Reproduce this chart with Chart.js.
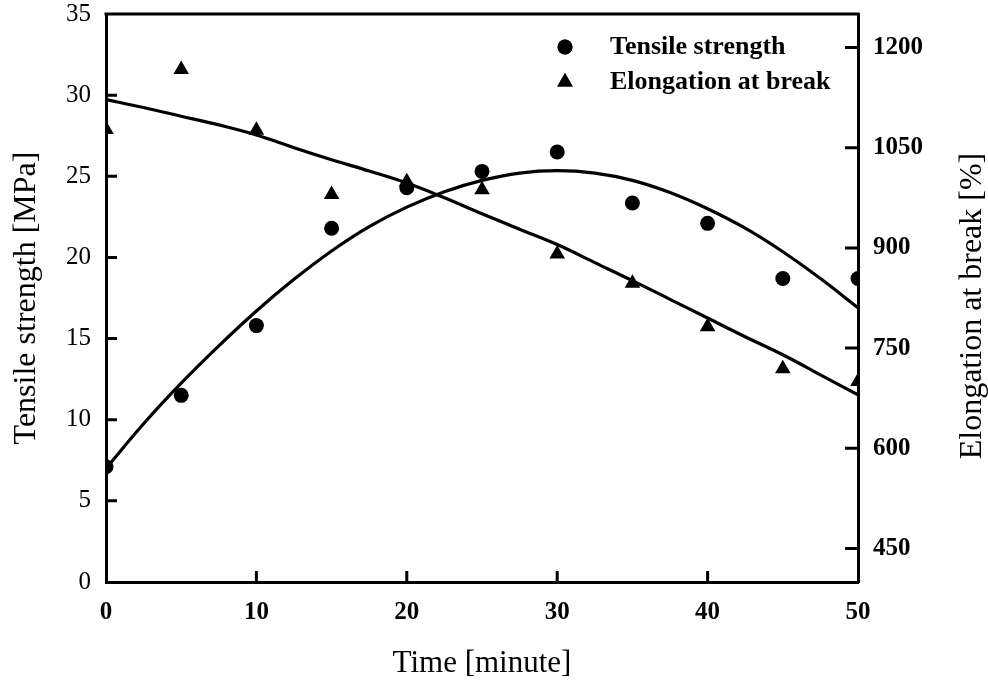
<!DOCTYPE html>
<html>
<head>
<meta charset="utf-8">
<title>Tensile strength and elongation at break</title>
<script src="https://cdn.jsdelivr.net/npm/chart.js@4.4.0/dist/chart.umd.min.js"></script>
<style>
  body { margin: 0; background: #fff; }
  #wrap { width: 988px; height: 686px; }
</style>
</head>
<body>
<div id="wrap"><canvas id="mechChart" width="988" height="686"></canvas></div>
<script>
// measured values
const times = [0, 5, 10, 15, 20, 25, 30, 35, 40, 45, 50];
const tensileStrength = [7.1, 11.5, 15.8, 21.8, 24.3, 25.3, 26.5, 23.35, 22.1, 18.7, 18.7];
const elongationAtBreak = [1077, 1167, 1076, 980, 999, 987, 891, 847, 782, 719, 700];

// fitted trend lines, every 2.5 min
const fitTimes = [0, 2.5, 5, 7.5, 10, 12.5, 15, 17.5, 20, 22.5, 25, 27.5, 30, 32.5, 35, 37.5, 40, 42.5, 45, 47.5, 50];
const tensileFit = [7.0, 9.75, 12.25, 14.55, 16.7, 18.65, 20.4, 21.9, 23.1, 24.05, 24.75, 25.2, 25.35, 25.2, 24.75, 24.0, 23.0, 21.8, 20.35, 18.7, 16.9];
const elongationFit = [1122, 1110, 1097, 1084, 1069, 1050, 1032, 1015, 997, 975, 951, 928, 905, 878, 851, 823, 795, 767, 740, 710, 680];

// tick labels
const xTicks = [0, 10, 20, 30, 40, 50];
const leftTicks = [0, 5, 10, 15, 20, 25, 30, 35];
const rightTicks = [450, 600, 750, 900, 1050, 1200];

const serif = '"Liberation Serif", "Times New Roman", serif';
const toXY = (xs, ys) => xs.map((t, i) => ({ x: t, y: ys[i] }));

// keep the plot box at a fixed place on the canvas
const fixVertical = (width) => (s) => {
  s.width = width;
  s.paddingTop = 14;
  s.paddingBottom = 0;
};

// top border, inward tick marks, right title and legend
const framePlugin = {
  id: 'frame',
  afterDraw(chart) {
    const { ctx, chartArea: a, scales } = chart;
    ctx.save();
    ctx.strokeStyle = '#000';
    ctx.lineWidth = 3;
    ctx.beginPath();
    ctx.moveTo(a.left - 1.5, a.top);
    ctx.lineTo(a.right + 1.5, a.top);
    leftTicks.forEach(v => {
      if (v <= scales.y.min || v >= scales.y.max) return;
      const y = scales.y.getPixelForValue(v);
      ctx.moveTo(a.left, y);
      ctx.lineTo(a.left + 11, y);
    });
    rightTicks.forEach(v => {
      const y = scales.y1.getPixelForValue(v);
      ctx.moveTo(a.right, y);
      ctx.lineTo(a.right - 13, y);
    });
    xTicks.forEach(v => {
      if (v <= scales.x.min || v >= scales.x.max) return;
      const x = scales.x.getPixelForValue(v);
      ctx.moveTo(x, a.bottom);
      ctx.lineTo(x, a.bottom - 11);
    });
    ctx.stroke();

    // right axis title reads bottom to top
    ctx.save();
    ctx.fillStyle = '#000';
    ctx.font = '32px ' + serif;
    ctx.textAlign = 'center';
    ctx.textBaseline = 'alphabetic';
    ctx.translate(chart.width - 7, (a.top + a.bottom) / 2 + 8);
    ctx.rotate(-Math.PI / 2);
    ctx.fillText('Elongation at break [%]', 0, 0);
    ctx.restore();

    // legend for the two marker series
    ctx.font = 'bold 26px ' + serif;
    ctx.textAlign = 'left';
    ctx.textBaseline = 'middle';
    ctx.fillStyle = '#000';
    const rows = [chart.data.datasets[0], chart.data.datasets[1]];
    rows.forEach((ds, i) => {
      const y = a.top + 33 + i * 35;
      Chart.helpers.drawPoint(ctx, {
        pointStyle: ds.pointStyle,
        radius: ds.pointRadius,
        rotation: 0,
        borderWidth: 0
      }, a.left + 459, y);
      ctx.fill();
      ctx.fillText(ds.label, a.left + 504, y);
    });
    ctx.restore();
  }
};

new Chart(document.getElementById('mechChart'), {
  type: 'scatter',
  data: {
    datasets: [
      {
        label: 'Tensile strength',
        data: toXY(times, tensileStrength),
        yAxisID: 'y',
        pointStyle: 'circle',
        pointRadius: 7.5,
        backgroundColor: '#000',
        borderColor: '#000',
        borderWidth: 0,
        showLine: false
      },
      {
        label: 'Elongation at break',
        data: toXY(times, elongationAtBreak),
        yAxisID: 'y1',
        pointStyle: 'triangle',
        pointRadius: 9,
        backgroundColor: '#000',
        borderColor: '#000',
        borderWidth: 0,
        showLine: false
      },
      {
        label: 'Tensile strength fit',
        data: toXY(fitTimes, tensileFit),
        yAxisID: 'y',
        showLine: true,
        pointRadius: 0,
        borderColor: '#000',
        borderWidth: 3.2,
        tension: 0.4
      },
      {
        label: 'Elongation fit',
        data: toXY(fitTimes, elongationFit),
        yAxisID: 'y1',
        showLine: true,
        pointRadius: 0,
        borderColor: '#000',
        borderWidth: 3.2,
        tension: 0.4
      }
    ]
  },
  options: {
    responsive: false,
    animation: false,
    events: [],
    layout: { padding: 0 },
    plugins: {
      legend: { display: false },
      tooltip: { enabled: false }
    },
    scales: {
      x: {
        type: 'linear',
        min: 0,
        max: 50,
        afterBuildTicks: s => { s.ticks = xTicks.map(v => ({ value: v })); },
        afterFit: s => { s.height = 104; },
        grid: { display: false, drawTicks: false },
        border: { display: true, color: '#000', width: 3 },
        ticks: { color: '#000', padding: 16, font: { family: serif, size: 25, weight: 'bold' } },
        title: {
          display: true,
          text: 'Time [minute]',
          color: '#000',
          padding: { bottom: 4 },
          font: { family: serif, size: 31 }
        }
      },
      y: {
        position: 'left',
        min: 0,
        max: 35,
        afterBuildTicks: s => { s.ticks = leftTicks.map(v => ({ value: v })); },
        afterFit: fixVertical(106),
        grid: { display: false, drawTicks: false },
        border: { display: true, color: '#000', width: 3 },
        ticks: { color: '#000', padding: 15, font: { family: serif, size: 25 } },
        title: {
          display: true,
          text: 'Tensile strength [MPa]',
          color: '#000',
          padding: { top: 7 },
          font: { family: serif, size: 32 }
        }
      },
      y1: {
        position: 'right',
        min: 400,
        max: 1250,
        afterBuildTicks: s => { s.ticks = rightTicks.map(v => ({ value: v })); },
        afterFit: fixVertical(130),
        grid: { display: false, drawTicks: false },
        border: { display: true, color: '#000', width: 3 },
        ticks: {
          color: '#000',
          padding: 15,
          font: { family: serif, size: 25, weight: 'bold' },
          callback: v => String(v)
        }
      }
    }
  },
  plugins: [framePlugin]
});
</script>
</body>
</html>
